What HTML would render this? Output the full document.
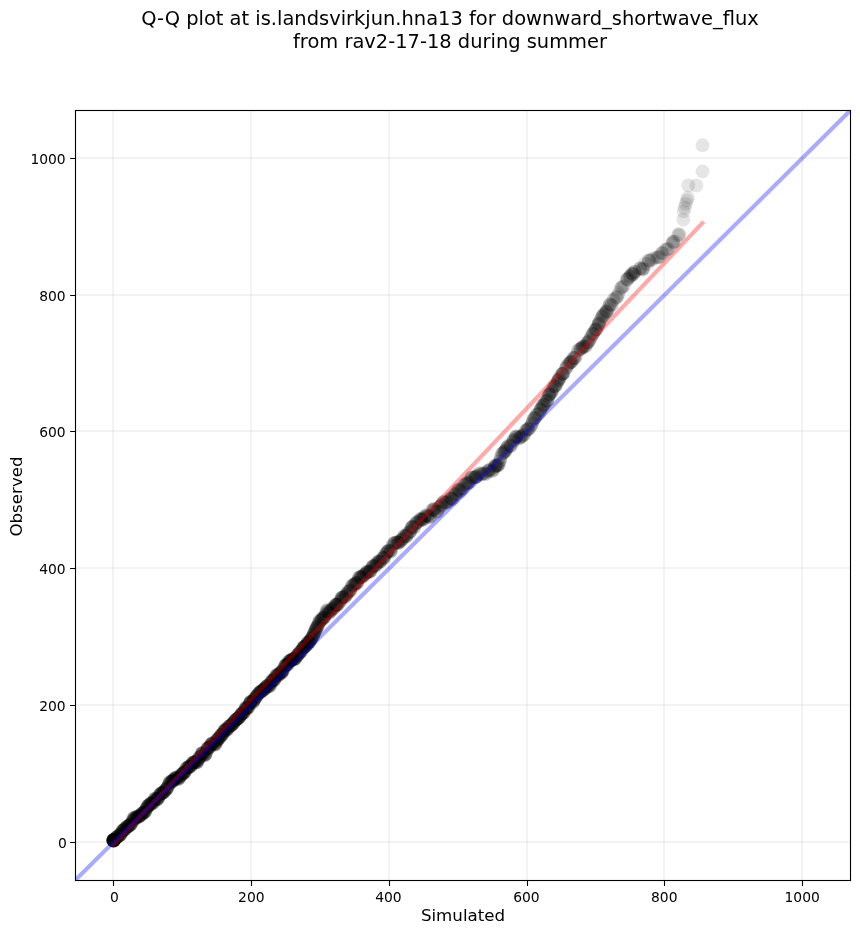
<!DOCTYPE html>
<html><head><meta charset="utf-8"><title>Q-Q plot</title>
<style>html,body{margin:0;padding:0;background:#fff}svg{display:block}text{font-family:"DejaVu Sans","Liberation Sans",sans-serif;fill:#000}</style></head><body>
<svg width="860" height="934" viewBox="0 0 860 934">
<rect width="860" height="934" fill="#fff"/>
<clipPath id="c"><rect x="75.5" y="110.5" width="775.0" height="770.0"/></clipPath>
<path d="M113 110.5V880.5M251 110.5V880.5M389 110.5V880.5M527 110.5V880.5M664 110.5V880.5M802 110.5V880.5" stroke="#000" stroke-opacity="0.048" stroke-width="2.05" fill="none"/>
<path d="M75.5 842H850.5M75.5 705H850.5M75.5 568H850.5M75.5 431H850.5M75.5 295H850.5M75.5 158H850.5" stroke="#000" stroke-opacity="0.048" stroke-width="2.05" fill="none"/>
<g clip-path="url(#c)">
<g fill="#000" fill-opacity="0.1">
<circle cx="113.6" cy="840.6" r="6.94"/>
<circle cx="113.4" cy="840.4" r="6.94"/>
<circle cx="114.0" cy="840.0" r="6.94"/>
<circle cx="113.4" cy="840.6" r="6.94"/>
<circle cx="113.2" cy="840.4" r="6.94"/>
<circle cx="113.3" cy="840.2" r="6.94"/>
<circle cx="113.4" cy="840.6" r="6.94"/>
<circle cx="113.6" cy="840.5" r="6.94"/>
<circle cx="113.9" cy="840.5" r="6.94"/>
<circle cx="113.6" cy="839.9" r="6.94"/>
<circle cx="113.9" cy="840.8" r="6.94"/>
<circle cx="113.1" cy="840.1" r="6.94"/>
<circle cx="113.9" cy="840.7" r="6.94"/>
<circle cx="113.9" cy="840.3" r="6.94"/>
<circle cx="113.5" cy="840.4" r="6.94"/>
<circle cx="113.4" cy="840.0" r="6.94"/>
<circle cx="113.5" cy="840.0" r="6.94"/>
<circle cx="113.3" cy="840.5" r="6.94"/>
<circle cx="113.4" cy="840.1" r="6.94"/>
<circle cx="113.6" cy="840.0" r="6.94"/>
<circle cx="113.4" cy="840.4" r="6.94"/>
<circle cx="113.4" cy="840.6" r="6.94"/>
<circle cx="113.9" cy="839.9" r="6.94"/>
<circle cx="113.2" cy="840.2" r="6.94"/>
<circle cx="113.2" cy="840.4" r="6.94"/>
<circle cx="113.4" cy="840.3" r="6.94"/>
<circle cx="113.9" cy="840.0" r="6.94"/>
<circle cx="113.9" cy="840.0" r="6.94"/>
<circle cx="114.4" cy="839.7" r="6.94"/>
<circle cx="114.4" cy="839.7" r="6.94"/>
<circle cx="114.9" cy="839.2" r="6.94"/>
<circle cx="115.3" cy="838.7" r="6.94"/>
<circle cx="115.8" cy="838.2" r="6.94"/>
<circle cx="116.5" cy="837.4" r="6.94"/>
<circle cx="116.6" cy="837.4" r="6.94"/>
<circle cx="116.7" cy="837.3" r="6.94"/>
<circle cx="117.0" cy="837.1" r="6.94"/>
<circle cx="117.3" cy="836.9" r="6.94"/>
<circle cx="117.4" cy="836.8" r="6.94"/>
<circle cx="117.5" cy="836.7" r="6.94"/>
<circle cx="118.6" cy="836.0" r="6.94"/>
<circle cx="118.7" cy="835.9" r="6.94"/>
<circle cx="118.8" cy="835.8" r="6.94"/>
<circle cx="119.4" cy="835.4" r="6.94"/>
<circle cx="119.5" cy="835.3" r="6.94"/>
<circle cx="119.6" cy="835.3" r="6.94"/>
<circle cx="120.3" cy="834.8" r="6.94"/>
<circle cx="120.3" cy="834.7" r="6.94"/>
<circle cx="120.5" cy="834.5" r="6.94"/>
<circle cx="120.7" cy="834.3" r="6.94"/>
<circle cx="121.1" cy="833.7" r="6.94"/>
<circle cx="121.3" cy="833.4" r="6.94"/>
<circle cx="121.9" cy="832.2" r="6.94"/>
<circle cx="122.1" cy="831.6" r="6.94"/>
<circle cx="122.5" cy="830.8" r="6.94"/>
<circle cx="122.6" cy="830.7" r="6.94"/>
<circle cx="122.6" cy="830.6" r="6.94"/>
<circle cx="122.7" cy="830.5" r="6.94"/>
<circle cx="123.7" cy="829.8" r="6.94"/>
<circle cx="123.7" cy="829.8" r="6.94"/>
<circle cx="124.0" cy="829.8" r="6.94"/>
<circle cx="124.3" cy="829.8" r="6.94"/>
<circle cx="124.6" cy="829.6" r="6.94"/>
<circle cx="124.9" cy="829.4" r="6.94"/>
<circle cx="125.0" cy="829.3" r="6.94"/>
<circle cx="125.5" cy="828.6" r="6.94"/>
<circle cx="125.5" cy="828.5" r="6.94"/>
<circle cx="126.0" cy="827.8" r="6.94"/>
<circle cx="126.5" cy="827.1" r="6.94"/>
<circle cx="127.1" cy="826.6" r="6.94"/>
<circle cx="127.2" cy="826.6" r="6.94"/>
<circle cx="127.3" cy="826.6" r="6.94"/>
<circle cx="127.4" cy="826.5" r="6.94"/>
<circle cx="127.6" cy="826.5" r="6.94"/>
<circle cx="128.5" cy="826.1" r="6.94"/>
<circle cx="128.6" cy="826.0" r="6.94"/>
<circle cx="128.9" cy="825.9" r="6.94"/>
<circle cx="128.9" cy="825.9" r="6.94"/>
<circle cx="129.1" cy="825.9" r="6.94"/>
<circle cx="130.1" cy="825.0" r="6.94"/>
<circle cx="130.2" cy="824.9" r="6.94"/>
<circle cx="130.2" cy="824.9" r="6.94"/>
<circle cx="130.4" cy="824.6" r="6.94"/>
<circle cx="130.4" cy="824.6" r="6.94"/>
<circle cx="130.9" cy="824.1" r="6.94"/>
<circle cx="131.0" cy="823.9" r="6.94"/>
<circle cx="132.0" cy="822.4" r="6.94"/>
<circle cx="132.1" cy="822.1" r="6.94"/>
<circle cx="132.3" cy="821.7" r="6.94"/>
<circle cx="132.7" cy="820.8" r="6.94"/>
<circle cx="132.8" cy="820.4" r="6.94"/>
<circle cx="133.1" cy="819.5" r="6.94"/>
<circle cx="133.6" cy="817.9" r="6.94"/>
<circle cx="133.8" cy="817.7" r="6.94"/>
<circle cx="134.4" cy="817.8" r="6.94"/>
<circle cx="134.5" cy="817.9" r="6.94"/>
<circle cx="134.6" cy="818.1" r="6.94"/>
<circle cx="134.8" cy="818.4" r="6.94"/>
<circle cx="134.9" cy="818.7" r="6.94"/>
<circle cx="135.4" cy="819.1" r="6.94"/>
<circle cx="136.3" cy="818.0" r="6.94"/>
<circle cx="136.3" cy="818.0" r="6.94"/>
<circle cx="136.5" cy="817.5" r="6.94"/>
<circle cx="136.9" cy="816.6" r="6.94"/>
<circle cx="137.0" cy="816.5" r="6.94"/>
<circle cx="137.1" cy="816.4" r="6.94"/>
<circle cx="138.1" cy="816.7" r="6.94"/>
<circle cx="138.4" cy="816.7" r="6.94"/>
<circle cx="138.5" cy="816.7" r="6.94"/>
<circle cx="138.6" cy="816.6" r="6.94"/>
<circle cx="138.7" cy="816.6" r="6.94"/>
<circle cx="138.9" cy="816.4" r="6.94"/>
<circle cx="139.2" cy="816.0" r="6.94"/>
<circle cx="139.5" cy="815.8" r="6.94"/>
<circle cx="140.0" cy="815.6" r="6.94"/>
<circle cx="140.0" cy="815.6" r="6.94"/>
<circle cx="141.1" cy="815.1" r="6.94"/>
<circle cx="141.3" cy="814.9" r="6.94"/>
<circle cx="141.3" cy="814.9" r="6.94"/>
<circle cx="141.7" cy="814.2" r="6.94"/>
<circle cx="142.1" cy="813.7" r="6.94"/>
<circle cx="142.3" cy="813.4" r="6.94"/>
<circle cx="142.5" cy="813.1" r="6.94"/>
<circle cx="142.8" cy="812.9" r="6.94"/>
<circle cx="143.0" cy="812.9" r="6.94"/>
<circle cx="143.2" cy="812.9" r="6.94"/>
<circle cx="143.5" cy="812.9" r="6.94"/>
<circle cx="144.2" cy="812.5" r="6.94"/>
<circle cx="144.2" cy="812.4" r="6.94"/>
<circle cx="144.7" cy="811.9" r="6.94"/>
<circle cx="144.8" cy="811.8" r="6.94"/>
<circle cx="144.9" cy="811.6" r="6.94"/>
<circle cx="144.9" cy="811.6" r="6.94"/>
<circle cx="145.5" cy="810.4" r="6.94"/>
<circle cx="145.9" cy="809.6" r="6.94"/>
<circle cx="146.2" cy="808.9" r="6.94"/>
<circle cx="146.3" cy="808.8" r="6.94"/>
<circle cx="146.3" cy="808.7" r="6.94"/>
<circle cx="147.2" cy="807.2" r="6.94"/>
<circle cx="147.6" cy="806.6" r="6.94"/>
<circle cx="147.6" cy="806.6" r="6.94"/>
<circle cx="147.7" cy="806.3" r="6.94"/>
<circle cx="148.0" cy="805.9" r="6.94"/>
<circle cx="148.5" cy="805.3" r="6.94"/>
<circle cx="148.5" cy="805.3" r="6.94"/>
<circle cx="148.7" cy="805.2" r="6.94"/>
<circle cx="148.9" cy="805.1" r="6.94"/>
<circle cx="149.8" cy="804.8" r="6.94"/>
<circle cx="150.1" cy="804.5" r="6.94"/>
<circle cx="150.2" cy="804.3" r="6.94"/>
<circle cx="150.7" cy="803.6" r="6.94"/>
<circle cx="150.7" cy="803.6" r="6.94"/>
<circle cx="150.8" cy="803.5" r="6.94"/>
<circle cx="151.2" cy="803.0" r="6.94"/>
<circle cx="151.6" cy="802.8" r="6.94"/>
<circle cx="151.9" cy="802.9" r="6.94"/>
<circle cx="152.1" cy="803.2" r="6.94"/>
<circle cx="152.6" cy="803.7" r="6.94"/>
<circle cx="153.0" cy="803.6" r="6.94"/>
<circle cx="153.6" cy="802.5" r="6.94"/>
<circle cx="153.8" cy="801.7" r="6.94"/>
<circle cx="154.1" cy="801.0" r="6.94"/>
<circle cx="154.1" cy="800.9" r="6.94"/>
<circle cx="154.6" cy="799.6" r="6.94"/>
<circle cx="154.8" cy="799.0" r="6.94"/>
<circle cx="155.0" cy="798.7" r="6.94"/>
<circle cx="155.0" cy="798.6" r="6.94"/>
<circle cx="155.3" cy="798.4" r="6.94"/>
<circle cx="156.3" cy="799.0" r="6.94"/>
<circle cx="156.5" cy="799.2" r="6.94"/>
<circle cx="156.8" cy="799.4" r="6.94"/>
<circle cx="156.9" cy="799.4" r="6.94"/>
<circle cx="157.2" cy="799.4" r="6.94"/>
<circle cx="157.4" cy="799.2" r="6.94"/>
<circle cx="157.5" cy="799.1" r="6.94"/>
<circle cx="157.8" cy="798.8" r="6.94"/>
<circle cx="158.2" cy="798.2" r="6.94"/>
<circle cx="158.6" cy="797.3" r="6.94"/>
<circle cx="158.6" cy="797.2" r="6.94"/>
<circle cx="159.4" cy="795.5" r="6.94"/>
<circle cx="159.5" cy="795.3" r="6.94"/>
<circle cx="159.7" cy="794.9" r="6.94"/>
<circle cx="160.2" cy="794.1" r="6.94"/>
<circle cx="160.3" cy="794.0" r="6.94"/>
<circle cx="160.8" cy="793.6" r="6.94"/>
<circle cx="161.0" cy="793.5" r="6.94"/>
<circle cx="161.5" cy="793.3" r="6.94"/>
<circle cx="161.7" cy="793.2" r="6.94"/>
<circle cx="162.0" cy="793.1" r="6.94"/>
<circle cx="162.5" cy="792.9" r="6.94"/>
<circle cx="162.5" cy="792.8" r="6.94"/>
<circle cx="162.6" cy="792.8" r="6.94"/>
<circle cx="162.9" cy="792.6" r="6.94"/>
<circle cx="163.5" cy="792.3" r="6.94"/>
<circle cx="163.7" cy="792.2" r="6.94"/>
<circle cx="163.8" cy="792.2" r="6.94"/>
<circle cx="164.1" cy="791.9" r="6.94"/>
<circle cx="164.2" cy="791.8" r="6.94"/>
<circle cx="165.3" cy="790.2" r="6.94"/>
<circle cx="165.6" cy="789.9" r="6.94"/>
<circle cx="165.7" cy="789.8" r="6.94"/>
<circle cx="166.2" cy="789.3" r="6.94"/>
<circle cx="166.4" cy="789.1" r="6.94"/>
<circle cx="166.5" cy="789.0" r="6.94"/>
<circle cx="166.8" cy="788.5" r="6.94"/>
<circle cx="166.9" cy="788.4" r="6.94"/>
<circle cx="167.5" cy="787.5" r="6.94"/>
<circle cx="167.5" cy="787.5" r="6.94"/>
<circle cx="167.7" cy="787.1" r="6.94"/>
<circle cx="168.8" cy="784.9" r="6.94"/>
<circle cx="168.8" cy="784.7" r="6.94"/>
<circle cx="169.2" cy="783.8" r="6.94"/>
<circle cx="169.3" cy="783.6" r="6.94"/>
<circle cx="169.7" cy="782.5" r="6.94"/>
<circle cx="169.8" cy="782.3" r="6.94"/>
<circle cx="169.8" cy="782.2" r="6.94"/>
<circle cx="170.2" cy="781.8" r="6.94"/>
<circle cx="170.8" cy="781.5" r="6.94"/>
<circle cx="171.4" cy="781.6" r="6.94"/>
<circle cx="171.6" cy="781.7" r="6.94"/>
<circle cx="171.9" cy="781.8" r="6.94"/>
<circle cx="172.0" cy="781.8" r="6.94"/>
<circle cx="172.0" cy="781.8" r="6.94"/>
<circle cx="172.7" cy="781.0" r="6.94"/>
<circle cx="172.9" cy="780.7" r="6.94"/>
<circle cx="172.9" cy="780.6" r="6.94"/>
<circle cx="173.3" cy="780.0" r="6.94"/>
<circle cx="173.9" cy="779.6" r="6.94"/>
<circle cx="173.9" cy="779.6" r="6.94"/>
<circle cx="174.2" cy="779.4" r="6.94"/>
<circle cx="174.4" cy="779.2" r="6.94"/>
<circle cx="175.1" cy="778.3" r="6.94"/>
<circle cx="175.4" cy="778.0" r="6.94"/>
<circle cx="175.4" cy="778.0" r="6.94"/>
<circle cx="175.9" cy="777.6" r="6.94"/>
<circle cx="175.9" cy="777.5" r="6.94"/>
<circle cx="176.1" cy="777.5" r="6.94"/>
<circle cx="176.7" cy="778.0" r="6.94"/>
<circle cx="176.9" cy="778.2" r="6.94"/>
<circle cx="177.0" cy="778.4" r="6.94"/>
<circle cx="177.4" cy="779.0" r="6.94"/>
<circle cx="177.5" cy="779.2" r="6.94"/>
<circle cx="178.2" cy="779.2" r="6.94"/>
<circle cx="178.2" cy="779.2" r="6.94"/>
<circle cx="179.2" cy="778.1" r="6.94"/>
<circle cx="179.2" cy="777.9" r="6.94"/>
<circle cx="179.5" cy="777.5" r="6.94"/>
<circle cx="179.8" cy="776.9" r="6.94"/>
<circle cx="179.9" cy="776.6" r="6.94"/>
<circle cx="180.0" cy="776.6" r="6.94"/>
<circle cx="180.9" cy="775.0" r="6.94"/>
<circle cx="181.0" cy="775.0" r="6.94"/>
<circle cx="181.0" cy="774.9" r="6.94"/>
<circle cx="181.2" cy="774.7" r="6.94"/>
<circle cx="182.4" cy="774.1" r="6.94"/>
<circle cx="182.4" cy="774.1" r="6.94"/>
<circle cx="182.5" cy="773.9" r="6.94"/>
<circle cx="182.7" cy="773.8" r="6.94"/>
<circle cx="183.1" cy="773.2" r="6.94"/>
<circle cx="183.4" cy="772.9" r="6.94"/>
<circle cx="183.5" cy="772.7" r="6.94"/>
<circle cx="184.0" cy="772.4" r="6.94"/>
<circle cx="184.1" cy="772.4" r="6.94"/>
<circle cx="184.3" cy="772.4" r="6.94"/>
<circle cx="184.6" cy="772.3" r="6.94"/>
<circle cx="184.6" cy="772.3" r="6.94"/>
<circle cx="185.1" cy="771.9" r="6.94"/>
<circle cx="185.6" cy="770.6" r="6.94"/>
<circle cx="186.1" cy="769.3" r="6.94"/>
<circle cx="186.4" cy="768.4" r="6.94"/>
<circle cx="186.4" cy="768.4" r="6.94"/>
<circle cx="186.5" cy="768.1" r="6.94"/>
<circle cx="187.2" cy="767.5" r="6.94"/>
<circle cx="188.0" cy="767.5" r="6.94"/>
<circle cx="188.1" cy="767.5" r="6.94"/>
<circle cx="188.4" cy="767.2" r="6.94"/>
<circle cx="189.0" cy="766.7" r="6.94"/>
<circle cx="189.0" cy="766.7" r="6.94"/>
<circle cx="189.4" cy="766.6" r="6.94"/>
<circle cx="189.5" cy="766.6" r="6.94"/>
<circle cx="189.5" cy="766.6" r="6.94"/>
<circle cx="189.7" cy="766.6" r="6.94"/>
<circle cx="190.1" cy="766.8" r="6.94"/>
<circle cx="190.4" cy="766.9" r="6.94"/>
<circle cx="191.1" cy="765.9" r="6.94"/>
<circle cx="191.6" cy="764.7" r="6.94"/>
<circle cx="191.6" cy="764.6" r="6.94"/>
<circle cx="191.7" cy="764.3" r="6.94"/>
<circle cx="192.1" cy="763.5" r="6.94"/>
<circle cx="193.0" cy="762.6" r="6.94"/>
<circle cx="193.2" cy="762.5" r="6.94"/>
<circle cx="193.5" cy="762.4" r="6.94"/>
<circle cx="193.6" cy="762.4" r="6.94"/>
<circle cx="193.8" cy="762.4" r="6.94"/>
<circle cx="193.8" cy="762.4" r="6.94"/>
<circle cx="193.9" cy="762.4" r="6.94"/>
<circle cx="194.3" cy="762.2" r="6.94"/>
<circle cx="194.9" cy="761.9" r="6.94"/>
<circle cx="195.1" cy="761.8" r="6.94"/>
<circle cx="195.7" cy="762.0" r="6.94"/>
<circle cx="195.7" cy="762.1" r="6.94"/>
<circle cx="196.0" cy="762.3" r="6.94"/>
<circle cx="196.2" cy="762.5" r="6.94"/>
<circle cx="196.8" cy="762.5" r="6.94"/>
<circle cx="196.9" cy="762.4" r="6.94"/>
<circle cx="197.0" cy="762.4" r="6.94"/>
<circle cx="197.8" cy="760.9" r="6.94"/>
<circle cx="197.9" cy="760.6" r="6.94"/>
<circle cx="198.0" cy="760.4" r="6.94"/>
<circle cx="198.1" cy="760.1" r="6.94"/>
<circle cx="198.9" cy="758.2" r="6.94"/>
<circle cx="198.9" cy="758.1" r="6.94"/>
<circle cx="198.9" cy="758.1" r="6.94"/>
<circle cx="199.1" cy="757.9" r="6.94"/>
<circle cx="199.8" cy="757.4" r="6.94"/>
<circle cx="200.4" cy="756.7" r="6.94"/>
<circle cx="200.6" cy="756.2" r="6.94"/>
<circle cx="201.4" cy="754.3" r="6.94"/>
<circle cx="201.7" cy="753.6" r="6.94"/>
<circle cx="202.1" cy="753.2" r="6.94"/>
<circle cx="202.1" cy="753.2" r="6.94"/>
<circle cx="202.2" cy="753.2" r="6.94"/>
<circle cx="202.4" cy="753.2" r="6.94"/>
<circle cx="202.6" cy="753.3" r="6.94"/>
<circle cx="202.7" cy="753.4" r="6.94"/>
<circle cx="202.9" cy="753.6" r="6.94"/>
<circle cx="203.6" cy="754.7" r="6.94"/>
<circle cx="203.6" cy="754.7" r="6.94"/>
<circle cx="204.0" cy="755.1" r="6.94"/>
<circle cx="204.5" cy="755.3" r="6.94"/>
<circle cx="205.0" cy="755.0" r="6.94"/>
<circle cx="205.1" cy="754.9" r="6.94"/>
<circle cx="205.3" cy="754.7" r="6.94"/>
<circle cx="205.6" cy="754.1" r="6.94"/>
<circle cx="205.7" cy="753.9" r="6.94"/>
<circle cx="205.9" cy="753.3" r="6.94"/>
<circle cx="206.8" cy="750.6" r="6.94"/>
<circle cx="207.0" cy="749.9" r="6.94"/>
<circle cx="207.4" cy="748.7" r="6.94"/>
<circle cx="207.5" cy="748.5" r="6.94"/>
<circle cx="207.7" cy="748.1" r="6.94"/>
<circle cx="207.8" cy="748.0" r="6.94"/>
<circle cx="208.2" cy="747.6" r="6.94"/>
<circle cx="208.7" cy="747.6" r="6.94"/>
<circle cx="208.8" cy="747.6" r="6.94"/>
<circle cx="208.9" cy="747.6" r="6.94"/>
<circle cx="209.2" cy="747.7" r="6.94"/>
<circle cx="209.8" cy="747.2" r="6.94"/>
<circle cx="210.1" cy="746.7" r="6.94"/>
<circle cx="210.7" cy="745.4" r="6.94"/>
<circle cx="211.0" cy="744.8" r="6.94"/>
<circle cx="211.1" cy="744.7" r="6.94"/>
<circle cx="211.4" cy="744.2" r="6.94"/>
<circle cx="211.4" cy="744.1" r="6.94"/>
<circle cx="211.9" cy="743.4" r="6.94"/>
<circle cx="212.2" cy="743.1" r="6.94"/>
<circle cx="212.4" cy="743.1" r="6.94"/>
<circle cx="212.7" cy="743.1" r="6.94"/>
<circle cx="212.8" cy="743.2" r="6.94"/>
<circle cx="213.6" cy="743.5" r="6.94"/>
<circle cx="214.0" cy="743.9" r="6.94"/>
<circle cx="214.4" cy="744.3" r="6.94"/>
<circle cx="214.5" cy="744.4" r="6.94"/>
<circle cx="215.0" cy="744.5" r="6.94"/>
<circle cx="215.2" cy="744.4" r="6.94"/>
<circle cx="215.2" cy="744.4" r="6.94"/>
<circle cx="215.2" cy="744.4" r="6.94"/>
<circle cx="216.4" cy="742.4" r="6.94"/>
<circle cx="216.5" cy="742.1" r="6.94"/>
<circle cx="216.8" cy="740.8" r="6.94"/>
<circle cx="217.0" cy="740.4" r="6.94"/>
<circle cx="217.0" cy="740.3" r="6.94"/>
<circle cx="217.1" cy="739.9" r="6.94"/>
<circle cx="217.5" cy="739.2" r="6.94"/>
<circle cx="217.6" cy="739.1" r="6.94"/>
<circle cx="218.1" cy="738.8" r="6.94"/>
<circle cx="218.7" cy="738.7" r="6.94"/>
<circle cx="218.7" cy="738.7" r="6.94"/>
<circle cx="219.1" cy="738.4" r="6.94"/>
<circle cx="219.1" cy="738.4" r="6.94"/>
<circle cx="219.6" cy="737.5" r="6.94"/>
<circle cx="219.7" cy="737.4" r="6.94"/>
<circle cx="220.1" cy="736.5" r="6.94"/>
<circle cx="220.2" cy="736.4" r="6.94"/>
<circle cx="221.1" cy="735.2" r="6.94"/>
<circle cx="221.2" cy="735.0" r="6.94"/>
<circle cx="221.3" cy="735.0" r="6.94"/>
<circle cx="221.4" cy="734.9" r="6.94"/>
<circle cx="221.9" cy="734.6" r="6.94"/>
<circle cx="222.0" cy="734.6" r="6.94"/>
<circle cx="222.4" cy="734.3" r="6.94"/>
<circle cx="222.5" cy="734.1" r="6.94"/>
<circle cx="222.5" cy="734.1" r="6.94"/>
<circle cx="223.2" cy="733.0" r="6.94"/>
<circle cx="223.8" cy="731.9" r="6.94"/>
<circle cx="223.9" cy="731.7" r="6.94"/>
<circle cx="224.3" cy="730.9" r="6.94"/>
<circle cx="224.6" cy="730.4" r="6.94"/>
<circle cx="224.9" cy="729.9" r="6.94"/>
<circle cx="225.0" cy="729.9" r="6.94"/>
<circle cx="225.2" cy="729.8" r="6.94"/>
<circle cx="225.3" cy="729.8" r="6.94"/>
<circle cx="225.7" cy="729.8" r="6.94"/>
<circle cx="225.9" cy="729.9" r="6.94"/>
<circle cx="226.2" cy="730.0" r="6.94"/>
<circle cx="226.9" cy="730.0" r="6.94"/>
<circle cx="227.2" cy="729.7" r="6.94"/>
<circle cx="227.4" cy="729.5" r="6.94"/>
<circle cx="228.0" cy="728.4" r="6.94"/>
<circle cx="228.1" cy="728.2" r="6.94"/>
<circle cx="228.5" cy="727.2" r="6.94"/>
<circle cx="228.5" cy="727.1" r="6.94"/>
<circle cx="229.2" cy="726.3" r="6.94"/>
<circle cx="229.4" cy="726.3" r="6.94"/>
<circle cx="229.6" cy="726.2" r="6.94"/>
<circle cx="229.6" cy="726.2" r="6.94"/>
<circle cx="229.7" cy="726.2" r="6.94"/>
<circle cx="230.7" cy="725.6" r="6.94"/>
<circle cx="230.9" cy="725.4" r="6.94"/>
<circle cx="231.4" cy="725.1" r="6.94"/>
<circle cx="231.4" cy="725.0" r="6.94"/>
<circle cx="231.5" cy="725.0" r="6.94"/>
<circle cx="231.6" cy="724.9" r="6.94"/>
<circle cx="232.6" cy="723.8" r="6.94"/>
<circle cx="232.7" cy="723.8" r="6.94"/>
<circle cx="232.8" cy="723.7" r="6.94"/>
<circle cx="233.1" cy="723.4" r="6.94"/>
<circle cx="233.2" cy="723.2" r="6.94"/>
<circle cx="233.4" cy="723.0" r="6.94"/>
<circle cx="234.0" cy="722.1" r="6.94"/>
<circle cx="234.1" cy="721.9" r="6.94"/>
<circle cx="234.7" cy="721.2" r="6.94"/>
<circle cx="235.2" cy="720.7" r="6.94"/>
<circle cx="235.3" cy="720.5" r="6.94"/>
<circle cx="235.4" cy="720.3" r="6.94"/>
<circle cx="235.5" cy="720.3" r="6.94"/>
<circle cx="236.1" cy="719.5" r="6.94"/>
<circle cx="236.3" cy="719.4" r="6.94"/>
<circle cx="236.5" cy="719.3" r="6.94"/>
<circle cx="236.9" cy="719.2" r="6.94"/>
<circle cx="237.0" cy="719.1" r="6.94"/>
<circle cx="237.4" cy="718.9" r="6.94"/>
<circle cx="237.8" cy="718.6" r="6.94"/>
<circle cx="238.0" cy="718.4" r="6.94"/>
<circle cx="238.4" cy="718.1" r="6.94"/>
<circle cx="238.7" cy="717.9" r="6.94"/>
<circle cx="238.7" cy="717.9" r="6.94"/>
<circle cx="239.0" cy="717.6" r="6.94"/>
<circle cx="239.7" cy="716.7" r="6.94"/>
<circle cx="239.8" cy="716.5" r="6.94"/>
<circle cx="239.9" cy="716.5" r="6.94"/>
<circle cx="240.5" cy="715.4" r="6.94"/>
<circle cx="240.5" cy="715.3" r="6.94"/>
<circle cx="240.6" cy="715.3" r="6.94"/>
<circle cx="241.2" cy="714.2" r="6.94"/>
<circle cx="241.5" cy="713.9" r="6.94"/>
<circle cx="241.6" cy="713.7" r="6.94"/>
<circle cx="241.7" cy="713.7" r="6.94"/>
<circle cx="242.1" cy="713.3" r="6.94"/>
<circle cx="242.3" cy="713.3" r="6.94"/>
<circle cx="242.9" cy="713.2" r="6.94"/>
<circle cx="243.1" cy="713.1" r="6.94"/>
<circle cx="243.2" cy="713.1" r="6.94"/>
<circle cx="243.2" cy="713.1" r="6.94"/>
<circle cx="243.4" cy="713.0" r="6.94"/>
<circle cx="244.0" cy="712.3" r="6.94"/>
<circle cx="244.5" cy="711.1" r="6.94"/>
<circle cx="244.9" cy="709.8" r="6.94"/>
<circle cx="244.9" cy="709.7" r="6.94"/>
<circle cx="245.0" cy="709.6" r="6.94"/>
<circle cx="245.6" cy="707.9" r="6.94"/>
<circle cx="246.1" cy="707.4" r="6.94"/>
<circle cx="246.2" cy="707.4" r="6.94"/>
<circle cx="246.2" cy="707.4" r="6.94"/>
<circle cx="246.6" cy="707.8" r="6.94"/>
<circle cx="246.9" cy="708.1" r="6.94"/>
<circle cx="246.9" cy="708.1" r="6.94"/>
<circle cx="247.1" cy="708.3" r="6.94"/>
<circle cx="247.2" cy="708.3" r="6.94"/>
<circle cx="247.3" cy="708.4" r="6.94"/>
<circle cx="248.2" cy="707.7" r="6.94"/>
<circle cx="248.2" cy="707.7" r="6.94"/>
<circle cx="248.5" cy="707.1" r="6.94"/>
<circle cx="249.0" cy="705.9" r="6.94"/>
<circle cx="249.4" cy="704.6" r="6.94"/>
<circle cx="249.7" cy="703.6" r="6.94"/>
<circle cx="249.9" cy="703.1" r="6.94"/>
<circle cx="250.0" cy="702.8" r="6.94"/>
<circle cx="250.1" cy="702.7" r="6.94"/>
<circle cx="250.4" cy="702.1" r="6.94"/>
<circle cx="250.4" cy="702.0" r="6.94"/>
<circle cx="250.8" cy="701.7" r="6.94"/>
<circle cx="250.8" cy="701.7" r="6.94"/>
<circle cx="251.1" cy="701.7" r="6.94"/>
<circle cx="251.2" cy="701.8" r="6.94"/>
<circle cx="252.3" cy="702.6" r="6.94"/>
<circle cx="252.7" cy="702.4" r="6.94"/>
<circle cx="252.9" cy="702.2" r="6.94"/>
<circle cx="253.0" cy="702.1" r="6.94"/>
<circle cx="253.7" cy="700.6" r="6.94"/>
<circle cx="253.8" cy="700.3" r="6.94"/>
<circle cx="254.1" cy="699.8" r="6.94"/>
<circle cx="254.1" cy="699.8" r="6.94"/>
<circle cx="254.3" cy="699.3" r="6.94"/>
<circle cx="254.6" cy="698.7" r="6.94"/>
<circle cx="254.8" cy="698.4" r="6.94"/>
<circle cx="255.2" cy="697.9" r="6.94"/>
<circle cx="255.6" cy="697.5" r="6.94"/>
<circle cx="256.2" cy="696.8" r="6.94"/>
<circle cx="256.2" cy="696.8" r="6.94"/>
<circle cx="256.5" cy="696.4" r="6.94"/>
<circle cx="256.7" cy="696.1" r="6.94"/>
<circle cx="257.0" cy="695.5" r="6.94"/>
<circle cx="257.3" cy="694.9" r="6.94"/>
<circle cx="257.5" cy="694.8" r="6.94"/>
<circle cx="258.7" cy="693.5" r="6.94"/>
<circle cx="258.7" cy="693.5" r="6.94"/>
<circle cx="259.1" cy="693.1" r="6.94"/>
<circle cx="259.1" cy="692.9" r="6.94"/>
<circle cx="259.7" cy="692.3" r="6.94"/>
<circle cx="259.7" cy="692.2" r="6.94"/>
<circle cx="260.3" cy="691.9" r="6.94"/>
<circle cx="260.4" cy="691.8" r="6.94"/>
<circle cx="260.9" cy="691.6" r="6.94"/>
<circle cx="260.9" cy="691.6" r="6.94"/>
<circle cx="261.3" cy="691.4" r="6.94"/>
<circle cx="261.4" cy="691.4" r="6.94"/>
<circle cx="261.5" cy="691.3" r="6.94"/>
<circle cx="261.9" cy="691.0" r="6.94"/>
<circle cx="263.1" cy="689.9" r="6.94"/>
<circle cx="263.2" cy="689.9" r="6.94"/>
<circle cx="263.3" cy="689.8" r="6.94"/>
<circle cx="263.8" cy="689.6" r="6.94"/>
<circle cx="263.8" cy="689.6" r="6.94"/>
<circle cx="264.2" cy="689.2" r="6.94"/>
<circle cx="264.4" cy="688.9" r="6.94"/>
<circle cx="264.5" cy="688.8" r="6.94"/>
<circle cx="264.9" cy="688.3" r="6.94"/>
<circle cx="265.2" cy="688.0" r="6.94"/>
<circle cx="265.6" cy="687.6" r="6.94"/>
<circle cx="265.8" cy="687.3" r="6.94"/>
<circle cx="266.1" cy="687.0" r="6.94"/>
<circle cx="266.3" cy="686.6" r="6.94"/>
<circle cx="266.9" cy="685.9" r="6.94"/>
<circle cx="267.6" cy="685.4" r="6.94"/>
<circle cx="267.6" cy="685.4" r="6.94"/>
<circle cx="268.0" cy="685.6" r="6.94"/>
<circle cx="268.1" cy="685.7" r="6.94"/>
<circle cx="268.3" cy="685.8" r="6.94"/>
<circle cx="268.7" cy="686.2" r="6.94"/>
<circle cx="269.1" cy="686.4" r="6.94"/>
<circle cx="269.4" cy="686.3" r="6.94"/>
<circle cx="269.5" cy="686.2" r="6.94"/>
<circle cx="270.0" cy="685.5" r="6.94"/>
<circle cx="270.2" cy="684.9" r="6.94"/>
<circle cx="270.8" cy="683.1" r="6.94"/>
<circle cx="271.0" cy="682.7" r="6.94"/>
<circle cx="271.0" cy="682.5" r="6.94"/>
<circle cx="271.1" cy="682.2" r="6.94"/>
<circle cx="271.4" cy="681.6" r="6.94"/>
<circle cx="271.9" cy="680.5" r="6.94"/>
<circle cx="272.3" cy="680.1" r="6.94"/>
<circle cx="272.9" cy="680.2" r="6.94"/>
<circle cx="272.9" cy="680.3" r="6.94"/>
<circle cx="273.1" cy="680.4" r="6.94"/>
<circle cx="273.1" cy="680.4" r="6.94"/>
<circle cx="273.7" cy="680.5" r="6.94"/>
<circle cx="274.0" cy="680.2" r="6.94"/>
<circle cx="274.3" cy="679.9" r="6.94"/>
<circle cx="274.6" cy="679.3" r="6.94"/>
<circle cx="274.8" cy="679.0" r="6.94"/>
<circle cx="275.3" cy="677.7" r="6.94"/>
<circle cx="275.3" cy="677.5" r="6.94"/>
<circle cx="275.8" cy="676.3" r="6.94"/>
<circle cx="276.0" cy="675.8" r="6.94"/>
<circle cx="276.3" cy="675.2" r="6.94"/>
<circle cx="276.8" cy="674.8" r="6.94"/>
<circle cx="277.1" cy="674.8" r="6.94"/>
<circle cx="277.5" cy="675.1" r="6.94"/>
<circle cx="277.7" cy="675.3" r="6.94"/>
<circle cx="278.0" cy="675.5" r="6.94"/>
<circle cx="278.5" cy="675.2" r="6.94"/>
<circle cx="278.6" cy="675.1" r="6.94"/>
<circle cx="278.8" cy="674.6" r="6.94"/>
<circle cx="279.1" cy="673.8" r="6.94"/>
<circle cx="279.8" cy="672.6" r="6.94"/>
<circle cx="280.5" cy="672.6" r="6.94"/>
<circle cx="280.7" cy="672.8" r="6.94"/>
<circle cx="280.8" cy="672.8" r="6.94"/>
<circle cx="281.2" cy="672.9" r="6.94"/>
<circle cx="281.3" cy="672.8" r="6.94"/>
<circle cx="281.4" cy="672.8" r="6.94"/>
<circle cx="281.7" cy="672.5" r="6.94"/>
<circle cx="282.1" cy="671.9" r="6.94"/>
<circle cx="282.3" cy="671.5" r="6.94"/>
<circle cx="282.4" cy="671.2" r="6.94"/>
<circle cx="282.6" cy="670.9" r="6.94"/>
<circle cx="282.8" cy="670.3" r="6.94"/>
<circle cx="282.9" cy="670.2" r="6.94"/>
<circle cx="283.5" cy="669.0" r="6.94"/>
<circle cx="284.2" cy="667.8" r="6.94"/>
<circle cx="284.7" cy="666.7" r="6.94"/>
<circle cx="285.3" cy="665.5" r="6.94"/>
<circle cx="285.4" cy="665.3" r="6.94"/>
<circle cx="285.8" cy="665.0" r="6.94"/>
<circle cx="285.9" cy="664.9" r="6.94"/>
<circle cx="286.0" cy="664.9" r="6.94"/>
<circle cx="286.3" cy="664.9" r="6.94"/>
<circle cx="286.3" cy="664.9" r="6.94"/>
<circle cx="286.4" cy="664.9" r="6.94"/>
<circle cx="287.1" cy="665.2" r="6.94"/>
<circle cx="287.5" cy="665.0" r="6.94"/>
<circle cx="287.7" cy="664.6" r="6.94"/>
<circle cx="288.0" cy="663.8" r="6.94"/>
<circle cx="288.2" cy="663.4" r="6.94"/>
<circle cx="288.7" cy="661.9" r="6.94"/>
<circle cx="288.8" cy="661.8" r="6.94"/>
<circle cx="288.9" cy="661.5" r="6.94"/>
<circle cx="289.3" cy="661.1" r="6.94"/>
<circle cx="289.6" cy="660.9" r="6.94"/>
<circle cx="290.0" cy="660.9" r="6.94"/>
<circle cx="290.3" cy="660.9" r="6.94"/>
<circle cx="290.8" cy="660.8" r="6.94"/>
<circle cx="291.0" cy="660.5" r="6.94"/>
<circle cx="291.5" cy="659.8" r="6.94"/>
<circle cx="291.5" cy="659.7" r="6.94"/>
<circle cx="291.7" cy="659.5" r="6.94"/>
<circle cx="292.2" cy="659.3" r="6.94"/>
<circle cx="292.3" cy="659.3" r="6.94"/>
<circle cx="292.5" cy="659.3" r="6.94"/>
<circle cx="292.7" cy="659.4" r="6.94"/>
<circle cx="292.9" cy="659.5" r="6.94"/>
<circle cx="293.4" cy="659.7" r="6.94"/>
<circle cx="293.7" cy="659.6" r="6.94"/>
<circle cx="294.3" cy="659.2" r="6.94"/>
<circle cx="294.8" cy="658.9" r="6.94"/>
<circle cx="294.8" cy="658.8" r="6.94"/>
<circle cx="294.9" cy="658.8" r="6.94"/>
<circle cx="295.0" cy="658.6" r="6.94"/>
<circle cx="295.5" cy="658.0" r="6.94"/>
<circle cx="295.7" cy="657.8" r="6.94"/>
<circle cx="296.4" cy="656.6" r="6.94"/>
<circle cx="297.0" cy="655.7" r="6.94"/>
<circle cx="297.1" cy="655.6" r="6.94"/>
<circle cx="297.3" cy="655.3" r="6.94"/>
<circle cx="297.4" cy="655.2" r="6.94"/>
<circle cx="297.4" cy="655.2" r="6.94"/>
<circle cx="298.2" cy="654.6" r="6.94"/>
<circle cx="298.4" cy="654.4" r="6.94"/>
<circle cx="298.6" cy="654.0" r="6.94"/>
<circle cx="299.1" cy="653.1" r="6.94"/>
<circle cx="299.2" cy="653.1" r="6.94"/>
<circle cx="300.1" cy="652.0" r="6.94"/>
<circle cx="300.2" cy="651.9" r="6.94"/>
<circle cx="300.4" cy="651.8" r="6.94"/>
<circle cx="300.5" cy="651.7" r="6.94"/>
<circle cx="300.9" cy="651.5" r="6.94"/>
<circle cx="301.3" cy="651.3" r="6.94"/>
<circle cx="301.7" cy="650.7" r="6.94"/>
<circle cx="302.0" cy="650.0" r="6.94"/>
<circle cx="302.9" cy="648.1" r="6.94"/>
<circle cx="303.0" cy="647.9" r="6.94"/>
<circle cx="303.2" cy="647.6" r="6.94"/>
<circle cx="303.3" cy="647.5" r="6.94"/>
<circle cx="303.6" cy="647.2" r="6.94"/>
<circle cx="303.8" cy="647.0" r="6.94"/>
<circle cx="304.2" cy="646.8" r="6.94"/>
<circle cx="304.3" cy="646.8" r="6.94"/>
<circle cx="304.6" cy="646.9" r="6.94"/>
<circle cx="304.6" cy="646.9" r="6.94"/>
<circle cx="304.7" cy="647.0" r="6.94"/>
<circle cx="306.1" cy="645.9" r="6.94"/>
<circle cx="306.2" cy="645.6" r="6.94"/>
<circle cx="306.2" cy="645.6" r="6.94"/>
<circle cx="306.5" cy="644.9" r="6.94"/>
<circle cx="306.6" cy="644.5" r="6.94"/>
<circle cx="306.7" cy="644.5" r="6.94"/>
<circle cx="307.4" cy="642.7" r="6.94"/>
<circle cx="308.0" cy="642.3" r="6.94"/>
<circle cx="308.1" cy="642.3" r="6.94"/>
<circle cx="308.2" cy="642.3" r="6.94"/>
<circle cx="308.5" cy="642.5" r="6.94"/>
<circle cx="308.6" cy="642.6" r="6.94"/>
<circle cx="308.9" cy="642.7" r="6.94"/>
<circle cx="309.0" cy="642.7" r="6.94"/>
<circle cx="309.2" cy="642.7" r="6.94"/>
<circle cx="309.8" cy="641.8" r="6.94"/>
<circle cx="310.1" cy="641.1" r="6.94"/>
<circle cx="310.1" cy="640.9" r="6.94"/>
<circle cx="310.4" cy="640.2" r="6.94"/>
<circle cx="311.1" cy="638.9" r="6.94"/>
<circle cx="311.1" cy="638.9" r="6.94"/>
<circle cx="311.2" cy="638.7" r="6.94"/>
<circle cx="311.3" cy="638.7" r="6.94"/>
<circle cx="311.7" cy="638.4" r="6.94"/>
<circle cx="312.6" cy="637.2" r="6.94"/>
<circle cx="312.6" cy="637.2" r="6.94"/>
<circle cx="313.0" cy="636.1" r="6.94"/>
<circle cx="313.2" cy="635.6" r="6.94"/>
<circle cx="313.4" cy="634.8" r="6.94"/>
<circle cx="313.5" cy="634.6" r="6.94"/>
<circle cx="313.7" cy="634.1" r="6.94"/>
<circle cx="314.1" cy="633.4" r="6.94"/>
<circle cx="314.3" cy="633.1" r="6.94"/>
<circle cx="314.7" cy="632.3" r="6.94"/>
<circle cx="315.1" cy="631.2" r="6.94"/>
<circle cx="315.3" cy="630.6" r="6.94"/>
<circle cx="315.4" cy="630.4" r="6.94"/>
<circle cx="315.7" cy="629.6" r="6.94"/>
<circle cx="316.0" cy="628.7" r="6.94"/>
<circle cx="316.0" cy="628.6" r="6.94"/>
<circle cx="316.3" cy="628.2" r="6.94"/>
<circle cx="316.4" cy="627.8" r="6.94"/>
<circle cx="317.0" cy="627.2" r="6.94"/>
<circle cx="317.4" cy="626.8" r="6.94"/>
<circle cx="317.6" cy="626.5" r="6.94"/>
<circle cx="318.0" cy="625.5" r="6.94"/>
<circle cx="318.3" cy="624.6" r="6.94"/>
<circle cx="318.5" cy="624.0" r="6.94"/>
<circle cx="319.0" cy="622.6" r="6.94"/>
<circle cx="319.2" cy="622.2" r="6.94"/>
<circle cx="319.2" cy="622.2" r="6.94"/>
<circle cx="320.0" cy="620.7" r="6.94"/>
<circle cx="320.2" cy="620.5" r="6.94"/>
<circle cx="320.6" cy="620.1" r="6.94"/>
<circle cx="321.6" cy="619.6" r="6.94"/>
<circle cx="321.7" cy="619.6" r="6.94"/>
<circle cx="322.0" cy="619.5" r="6.94"/>
<circle cx="322.0" cy="619.5" r="6.94"/>
<circle cx="322.9" cy="618.2" r="6.94"/>
<circle cx="323.0" cy="618.0" r="6.94"/>
<circle cx="323.6" cy="617.2" r="6.94"/>
<circle cx="324.1" cy="617.4" r="6.94"/>
<circle cx="324.2" cy="617.4" r="6.94"/>
<circle cx="324.2" cy="617.4" r="6.94"/>
<circle cx="324.3" cy="617.4" r="6.94"/>
<circle cx="325.8" cy="614.7" r="6.94"/>
<circle cx="325.8" cy="614.7" r="6.94"/>
<circle cx="325.9" cy="613.9" r="6.94"/>
<circle cx="326.4" cy="611.5" r="6.94"/>
<circle cx="326.6" cy="610.8" r="6.94"/>
<circle cx="327.1" cy="609.5" r="6.94"/>
<circle cx="327.9" cy="610.5" r="6.94"/>
<circle cx="328.3" cy="611.6" r="6.94"/>
<circle cx="328.5" cy="612.1" r="6.94"/>
<circle cx="328.6" cy="612.2" r="6.94"/>
<circle cx="329.0" cy="612.8" r="6.94"/>
<circle cx="329.1" cy="612.9" r="6.94"/>
<circle cx="330.2" cy="611.9" r="6.94"/>
<circle cx="330.6" cy="611.1" r="6.94"/>
<circle cx="331.1" cy="610.0" r="6.94"/>
<circle cx="331.2" cy="609.9" r="6.94"/>
<circle cx="331.8" cy="609.2" r="6.94"/>
<circle cx="332.5" cy="609.0" r="6.94"/>
<circle cx="332.9" cy="608.8" r="6.94"/>
<circle cx="333.5" cy="608.2" r="6.94"/>
<circle cx="333.9" cy="607.4" r="6.94"/>
<circle cx="333.9" cy="607.4" r="6.94"/>
<circle cx="335.4" cy="605.0" r="6.94"/>
<circle cx="335.6" cy="604.8" r="6.94"/>
<circle cx="335.7" cy="604.8" r="6.94"/>
<circle cx="335.7" cy="604.8" r="6.94"/>
<circle cx="336.6" cy="604.8" r="6.94"/>
<circle cx="336.6" cy="604.8" r="6.94"/>
<circle cx="336.7" cy="604.8" r="6.94"/>
<circle cx="337.0" cy="605.0" r="6.94"/>
<circle cx="337.3" cy="605.1" r="6.94"/>
<circle cx="338.0" cy="604.7" r="6.94"/>
<circle cx="338.6" cy="603.7" r="6.94"/>
<circle cx="339.8" cy="601.9" r="6.94"/>
<circle cx="340.2" cy="601.3" r="6.94"/>
<circle cx="340.6" cy="600.3" r="6.94"/>
<circle cx="340.6" cy="600.1" r="6.94"/>
<circle cx="341.4" cy="598.2" r="6.94"/>
<circle cx="341.6" cy="597.9" r="6.94"/>
<circle cx="341.6" cy="597.9" r="6.94"/>
<circle cx="342.3" cy="597.1" r="6.94"/>
<circle cx="342.6" cy="597.1" r="6.94"/>
<circle cx="342.8" cy="597.2" r="6.94"/>
<circle cx="343.3" cy="597.4" r="6.94"/>
<circle cx="344.3" cy="597.6" r="6.94"/>
<circle cx="344.9" cy="596.9" r="6.94"/>
<circle cx="345.4" cy="596.2" r="6.94"/>
<circle cx="345.7" cy="595.7" r="6.94"/>
<circle cx="346.3" cy="594.9" r="6.94"/>
<circle cx="346.3" cy="594.9" r="6.94"/>
<circle cx="346.7" cy="594.0" r="6.94"/>
<circle cx="347.1" cy="593.2" r="6.94"/>
<circle cx="347.9" cy="591.8" r="6.94"/>
<circle cx="348.4" cy="591.5" r="6.94"/>
<circle cx="348.6" cy="591.5" r="6.94"/>
<circle cx="349.5" cy="591.8" r="6.94"/>
<circle cx="350.2" cy="590.7" r="6.94"/>
<circle cx="350.3" cy="590.3" r="6.94"/>
<circle cx="350.3" cy="590.3" r="6.94"/>
<circle cx="350.8" cy="588.8" r="6.94"/>
<circle cx="351.5" cy="586.6" r="6.94"/>
<circle cx="352.3" cy="585.3" r="6.94"/>
<circle cx="352.5" cy="585.2" r="6.94"/>
<circle cx="352.9" cy="585.1" r="6.94"/>
<circle cx="354.0" cy="585.1" r="6.94"/>
<circle cx="354.1" cy="585.0" r="6.94"/>
<circle cx="354.2" cy="585.0" r="6.94"/>
<circle cx="355.2" cy="583.5" r="6.94"/>
<circle cx="355.5" cy="583.3" r="6.94"/>
<circle cx="355.8" cy="583.2" r="6.94"/>
<circle cx="356.1" cy="583.3" r="6.94"/>
<circle cx="356.8" cy="583.2" r="6.94"/>
<circle cx="357.1" cy="582.9" r="6.94"/>
<circle cx="357.1" cy="582.8" r="6.94"/>
<circle cx="357.6" cy="581.9" r="6.94"/>
<circle cx="358.2" cy="579.8" r="6.94"/>
<circle cx="358.8" cy="578.2" r="6.94"/>
<circle cx="359.2" cy="577.5" r="6.94"/>
<circle cx="359.2" cy="577.5" r="6.94"/>
<circle cx="360.4" cy="576.9" r="6.94"/>
<circle cx="360.4" cy="576.9" r="6.94"/>
<circle cx="361.1" cy="577.1" r="6.94"/>
<circle cx="361.2" cy="577.1" r="6.94"/>
<circle cx="361.3" cy="577.1" r="6.94"/>
<circle cx="362.2" cy="577.0" r="6.94"/>
<circle cx="362.8" cy="576.2" r="6.94"/>
<circle cx="363.0" cy="575.9" r="6.94"/>
<circle cx="363.9" cy="574.7" r="6.94"/>
<circle cx="364.0" cy="574.7" r="6.94"/>
<circle cx="364.4" cy="574.7" r="6.94"/>
<circle cx="365.3" cy="574.5" r="6.94"/>
<circle cx="366.3" cy="572.8" r="6.94"/>
<circle cx="366.4" cy="572.7" r="6.94"/>
<circle cx="366.6" cy="572.2" r="6.94"/>
<circle cx="367.5" cy="571.7" r="6.94"/>
<circle cx="367.5" cy="571.7" r="6.94"/>
<circle cx="367.9" cy="571.9" r="6.94"/>
<circle cx="368.7" cy="572.1" r="6.94"/>
<circle cx="369.4" cy="572.0" r="6.94"/>
<circle cx="369.9" cy="571.6" r="6.94"/>
<circle cx="370.2" cy="571.2" r="6.94"/>
<circle cx="370.3" cy="571.0" r="6.94"/>
<circle cx="370.6" cy="570.3" r="6.94"/>
<circle cx="371.1" cy="569.1" r="6.94"/>
<circle cx="371.7" cy="567.7" r="6.94"/>
<circle cx="372.8" cy="566.3" r="6.94"/>
<circle cx="372.8" cy="566.3" r="6.94"/>
<circle cx="373.1" cy="566.2" r="6.94"/>
<circle cx="373.1" cy="566.1" r="6.94"/>
<circle cx="374.1" cy="566.1" r="6.94"/>
<circle cx="374.7" cy="566.3" r="6.94"/>
<circle cx="375.5" cy="566.0" r="6.94"/>
<circle cx="376.2" cy="564.8" r="6.94"/>
<circle cx="376.3" cy="564.5" r="6.94"/>
<circle cx="376.7" cy="563.8" r="6.94"/>
<circle cx="377.0" cy="563.0" r="6.94"/>
<circle cx="377.5" cy="562.0" r="6.94"/>
<circle cx="378.8" cy="561.0" r="6.94"/>
<circle cx="379.2" cy="561.4" r="6.94"/>
<circle cx="379.2" cy="561.4" r="6.94"/>
<circle cx="379.9" cy="561.9" r="6.94"/>
<circle cx="380.0" cy="561.9" r="6.94"/>
<circle cx="380.0" cy="561.9" r="6.94"/>
<circle cx="380.7" cy="561.1" r="6.94"/>
<circle cx="381.4" cy="559.4" r="6.94"/>
<circle cx="382.9" cy="557.9" r="6.94"/>
<circle cx="383.0" cy="557.9" r="6.94"/>
<circle cx="383.3" cy="558.0" r="6.94"/>
<circle cx="383.7" cy="557.9" r="6.94"/>
<circle cx="384.2" cy="557.5" r="6.94"/>
<circle cx="384.2" cy="557.4" r="6.94"/>
<circle cx="385.2" cy="555.0" r="6.94"/>
<circle cx="385.7" cy="554.0" r="6.94"/>
<circle cx="385.9" cy="553.7" r="6.94"/>
<circle cx="387.0" cy="552.3" r="6.94"/>
<circle cx="387.2" cy="552.0" r="6.94"/>
<circle cx="387.4" cy="551.7" r="6.94"/>
<circle cx="387.6" cy="551.4" r="6.94"/>
<circle cx="388.7" cy="550.4" r="6.94"/>
<circle cx="388.9" cy="550.6" r="6.94"/>
<circle cx="388.9" cy="550.6" r="6.94"/>
<circle cx="390.4" cy="551.7" r="6.94"/>
<circle cx="390.5" cy="551.5" r="6.94"/>
<circle cx="390.7" cy="551.2" r="6.94"/>
<circle cx="391.1" cy="550.2" r="6.94"/>
<circle cx="392.1" cy="546.8" r="6.94"/>
<circle cx="392.2" cy="546.4" r="6.94"/>
<circle cx="392.9" cy="544.4" r="6.94"/>
<circle cx="394.2" cy="543.0" r="6.94"/>
<circle cx="394.2" cy="543.0" r="6.94"/>
<circle cx="394.7" cy="543.0" r="6.94"/>
<circle cx="395.3" cy="542.9" r="6.94"/>
<circle cx="396.7" cy="542.3" r="6.94"/>
<circle cx="397.1" cy="542.2" r="6.94"/>
<circle cx="397.2" cy="542.2" r="6.94"/>
<circle cx="398.2" cy="542.4" r="6.94"/>
<circle cx="398.4" cy="542.6" r="6.94"/>
<circle cx="398.6" cy="542.7" r="6.94"/>
<circle cx="398.7" cy="542.8" r="6.94"/>
<circle cx="398.8" cy="542.9" r="6.94"/>
<circle cx="400.5" cy="541.3" r="6.94"/>
<circle cx="400.8" cy="540.7" r="6.94"/>
<circle cx="401.1" cy="540.2" r="6.94"/>
<circle cx="401.9" cy="539.6" r="6.94"/>
<circle cx="402.1" cy="539.5" r="6.94"/>
<circle cx="402.9" cy="538.4" r="6.94"/>
<circle cx="403.1" cy="537.9" r="6.94"/>
<circle cx="404.1" cy="535.9" r="6.94"/>
<circle cx="404.3" cy="535.8" r="6.94"/>
<circle cx="404.8" cy="536.0" r="6.94"/>
<circle cx="405.9" cy="536.7" r="6.94"/>
<circle cx="406.2" cy="536.5" r="6.94"/>
<circle cx="406.4" cy="536.2" r="6.94"/>
<circle cx="406.7" cy="535.4" r="6.94"/>
<circle cx="406.8" cy="534.8" r="6.94"/>
<circle cx="407.3" cy="533.1" r="6.94"/>
<circle cx="409.3" cy="532.2" r="6.94"/>
<circle cx="409.4" cy="532.4" r="6.94"/>
<circle cx="409.6" cy="532.6" r="6.94"/>
<circle cx="410.6" cy="531.0" r="6.94"/>
<circle cx="410.6" cy="530.9" r="6.94"/>
<circle cx="411.5" cy="527.8" r="6.94"/>
<circle cx="411.6" cy="527.5" r="6.94"/>
<circle cx="412.1" cy="526.7" r="6.94"/>
<circle cx="412.3" cy="526.7" r="6.94"/>
<circle cx="412.5" cy="526.7" r="6.94"/>
<circle cx="412.9" cy="527.3" r="6.94"/>
<circle cx="413.7" cy="528.2" r="6.94"/>
<circle cx="414.4" cy="527.1" r="6.94"/>
<circle cx="415.1" cy="524.7" r="6.94"/>
<circle cx="415.5" cy="523.8" r="6.94"/>
<circle cx="416.1" cy="522.8" r="6.94"/>
<circle cx="416.8" cy="522.4" r="6.94"/>
<circle cx="417.0" cy="522.4" r="6.94"/>
<circle cx="417.5" cy="522.2" r="6.94"/>
<circle cx="418.8" cy="521.5" r="6.94"/>
<circle cx="419.9" cy="519.6" r="6.94"/>
<circle cx="420.3" cy="518.9" r="6.94"/>
<circle cx="420.8" cy="518.8" r="6.94"/>
<circle cx="421.2" cy="519.3" r="6.94"/>
<circle cx="421.5" cy="519.6" r="6.94"/>
<circle cx="421.5" cy="519.8" r="6.94"/>
<circle cx="421.7" cy="520.1" r="6.94"/>
<circle cx="423.3" cy="519.8" r="6.94"/>
<circle cx="423.6" cy="519.1" r="6.94"/>
<circle cx="423.9" cy="518.5" r="6.94"/>
<circle cx="424.5" cy="517.3" r="6.94"/>
<circle cx="424.8" cy="516.6" r="6.94"/>
<circle cx="424.9" cy="516.5" r="6.94"/>
<circle cx="426.0" cy="515.0" r="6.94"/>
<circle cx="427.2" cy="515.1" r="6.94"/>
<circle cx="427.6" cy="515.7" r="6.94"/>
<circle cx="427.8" cy="515.9" r="6.94"/>
<circle cx="428.7" cy="516.7" r="6.94"/>
<circle cx="429.1" cy="517.0" r="6.94"/>
<circle cx="429.8" cy="517.2" r="6.94"/>
<circle cx="430.5" cy="516.2" r="6.94"/>
<circle cx="430.6" cy="515.9" r="6.94"/>
<circle cx="432.3" cy="510.3" r="6.94"/>
<circle cx="432.4" cy="510.2" r="6.94"/>
<circle cx="433.4" cy="509.0" r="6.94"/>
<circle cx="433.8" cy="509.2" r="6.94"/>
<circle cx="434.2" cy="509.5" r="6.94"/>
<circle cx="434.4" cy="509.8" r="6.94"/>
<circle cx="434.9" cy="510.9" r="6.94"/>
<circle cx="435.6" cy="512.3" r="6.94"/>
<circle cx="437.0" cy="511.8" r="6.94"/>
<circle cx="437.2" cy="511.4" r="6.94"/>
<circle cx="437.3" cy="511.2" r="6.94"/>
<circle cx="438.9" cy="507.7" r="6.94"/>
<circle cx="439.1" cy="507.5" r="6.94"/>
<circle cx="439.7" cy="506.9" r="6.94"/>
<circle cx="440.7" cy="505.7" r="6.94"/>
<circle cx="441.2" cy="505.2" r="6.94"/>
<circle cx="441.6" cy="504.9" r="6.94"/>
<circle cx="441.6" cy="504.9" r="6.94"/>
<circle cx="443.2" cy="502.4" r="6.94"/>
<circle cx="443.4" cy="502.0" r="6.94"/>
<circle cx="443.4" cy="502.0" r="6.94"/>
<circle cx="445.5" cy="502.5" r="6.94"/>
<circle cx="445.9" cy="502.7" r="6.94"/>
<circle cx="446.3" cy="502.6" r="6.94"/>
<circle cx="446.7" cy="502.3" r="6.94"/>
<circle cx="447.1" cy="501.9" r="6.94"/>
<circle cx="448.4" cy="501.2" r="6.94"/>
<circle cx="449.7" cy="500.4" r="6.94"/>
<circle cx="450.3" cy="499.0" r="6.94"/>
<circle cx="450.5" cy="498.6" r="6.94"/>
<circle cx="451.0" cy="497.7" r="6.94"/>
<circle cx="451.6" cy="498.1" r="6.94"/>
<circle cx="451.9" cy="498.5" r="6.94"/>
<circle cx="452.2" cy="498.9" r="6.94"/>
<circle cx="452.6" cy="498.9" r="6.94"/>
<circle cx="453.9" cy="495.7" r="6.94"/>
<circle cx="454.9" cy="494.1" r="6.94"/>
<circle cx="455.0" cy="494.1" r="6.94"/>
<circle cx="456.2" cy="494.0" r="6.94"/>
<circle cx="456.2" cy="494.0" r="6.94"/>
<circle cx="457.1" cy="492.0" r="6.94"/>
<circle cx="457.9" cy="490.1" r="6.94"/>
<circle cx="458.3" cy="489.4" r="6.94"/>
<circle cx="459.0" cy="489.8" r="6.94"/>
<circle cx="459.1" cy="489.9" r="6.94"/>
<circle cx="459.7" cy="491.0" r="6.94"/>
<circle cx="459.8" cy="491.1" r="6.94"/>
<circle cx="461.0" cy="491.2" r="6.94"/>
<circle cx="462.1" cy="488.9" r="6.94"/>
<circle cx="462.2" cy="488.7" r="6.94"/>
<circle cx="462.4" cy="488.2" r="6.94"/>
<circle cx="464.1" cy="485.4" r="6.94"/>
<circle cx="464.6" cy="484.8" r="6.94"/>
<circle cx="465.0" cy="484.3" r="6.94"/>
<circle cx="466.0" cy="483.7" r="6.94"/>
<circle cx="466.5" cy="483.6" r="6.94"/>
<circle cx="466.8" cy="483.5" r="6.94"/>
<circle cx="468.2" cy="482.6" r="6.94"/>
<circle cx="468.4" cy="482.5" r="6.94"/>
<circle cx="468.5" cy="482.5" r="6.94"/>
<circle cx="469.2" cy="482.5" r="6.94"/>
<circle cx="470.1" cy="480.9" r="6.94"/>
<circle cx="470.6" cy="479.7" r="6.94"/>
<circle cx="471.4" cy="477.9" r="6.94"/>
<circle cx="471.7" cy="477.5" r="6.94"/>
<circle cx="471.8" cy="477.4" r="6.94"/>
<circle cx="472.8" cy="477.5" r="6.94"/>
<circle cx="474.5" cy="477.8" r="6.94"/>
<circle cx="475.5" cy="477.3" r="6.94"/>
<circle cx="475.7" cy="477.2" r="6.94"/>
<circle cx="475.8" cy="477.0" r="6.94"/>
<circle cx="476.2" cy="476.5" r="6.94"/>
<circle cx="476.4" cy="476.3" r="6.94"/>
<circle cx="477.4" cy="476.3" r="6.94"/>
<circle cx="478.8" cy="474.5" r="6.94"/>
<circle cx="479.4" cy="473.5" r="6.94"/>
<circle cx="480.0" cy="473.1" r="6.94"/>
<circle cx="481.3" cy="474.4" r="6.94"/>
<circle cx="481.6" cy="474.4" r="6.94"/>
<circle cx="482.7" cy="473.6" r="6.94"/>
<circle cx="483.9" cy="473.3" r="6.94"/>
<circle cx="484.4" cy="473.2" r="6.94"/>
<circle cx="485.5" cy="474.0" r="6.94"/>
<circle cx="485.6" cy="474.2" r="6.94"/>
<circle cx="487.7" cy="472.1" r="6.94"/>
<circle cx="488.1" cy="471.1" r="6.94"/>
<circle cx="488.3" cy="470.7" r="6.94"/>
<circle cx="488.9" cy="470.2" r="6.94"/>
<circle cx="489.2" cy="470.0" r="6.94"/>
<circle cx="490.8" cy="469.1" r="6.94"/>
<circle cx="491.9" cy="470.6" r="6.94"/>
<circle cx="492.1" cy="470.8" r="6.94"/>
<circle cx="493.0" cy="470.9" r="6.94"/>
<circle cx="493.9" cy="469.2" r="6.94"/>
<circle cx="494.8" cy="466.9" r="6.94"/>
<circle cx="494.9" cy="466.6" r="6.94"/>
<circle cx="494.9" cy="466.5" r="6.94"/>
<circle cx="495.4" cy="465.4" r="6.94"/>
<circle cx="495.6" cy="465.1" r="6.94"/>
<circle cx="496.6" cy="465.3" r="6.94"/>
<circle cx="497.0" cy="465.6" r="6.94"/>
<circle cx="497.2" cy="465.7" r="6.94"/>
<circle cx="497.9" cy="465.6" r="6.94"/>
<circle cx="498.2" cy="465.2" r="6.94"/>
<circle cx="498.6" cy="464.6" r="6.94"/>
<circle cx="499.1" cy="463.6" r="6.94"/>
<circle cx="499.9" cy="461.2" r="6.94"/>
<circle cx="500.0" cy="460.6" r="6.94"/>
<circle cx="500.5" cy="458.2" r="6.94"/>
<circle cx="500.6" cy="457.7" r="6.94"/>
<circle cx="502.0" cy="453.7" r="6.94"/>
<circle cx="502.3" cy="453.4" r="6.94"/>
<circle cx="502.6" cy="453.4" r="6.94"/>
<circle cx="503.8" cy="452.7" r="6.94"/>
<circle cx="504.2" cy="452.1" r="6.94"/>
<circle cx="504.7" cy="451.5" r="6.94"/>
<circle cx="504.8" cy="451.5" r="6.94"/>
<circle cx="505.5" cy="450.6" r="6.94"/>
<circle cx="505.6" cy="450.5" r="6.94"/>
<circle cx="506.4" cy="449.0" r="6.94"/>
<circle cx="506.7" cy="448.3" r="6.94"/>
<circle cx="507.1" cy="447.4" r="6.94"/>
<circle cx="507.5" cy="446.6" r="6.94"/>
<circle cx="508.2" cy="445.4" r="6.94"/>
<circle cx="509.6" cy="445.6" r="6.94"/>
<circle cx="510.3" cy="445.9" r="6.94"/>
<circle cx="510.8" cy="445.8" r="6.94"/>
<circle cx="510.8" cy="445.8" r="6.94"/>
<circle cx="512.4" cy="443.2" r="6.94"/>
<circle cx="513.1" cy="441.1" r="6.94"/>
<circle cx="513.3" cy="440.7" r="6.94"/>
<circle cx="513.5" cy="440.5" r="6.94"/>
<circle cx="514.2" cy="439.9" r="6.94"/>
<circle cx="515.6" cy="437.9" r="6.94"/>
<circle cx="515.9" cy="437.3" r="6.94"/>
<circle cx="516.0" cy="436.9" r="6.94"/>
<circle cx="516.1" cy="436.7" r="6.94"/>
<circle cx="516.4" cy="435.9" r="6.94"/>
<circle cx="518.0" cy="436.8" r="6.94"/>
<circle cx="518.6" cy="438.1" r="6.94"/>
<circle cx="519.2" cy="438.8" r="6.94"/>
<circle cx="520.2" cy="437.5" r="6.94"/>
<circle cx="520.3" cy="437.3" r="6.94"/>
<circle cx="521.2" cy="436.5" r="6.94"/>
<circle cx="521.6" cy="436.4" r="6.94"/>
<circle cx="522.2" cy="436.1" r="6.94"/>
<circle cx="523.4" cy="435.3" r="6.94"/>
<circle cx="524.0" cy="434.8" r="6.94"/>
<circle cx="524.4" cy="434.2" r="6.94"/>
<circle cx="525.4" cy="431.6" r="6.94"/>
<circle cx="526.0" cy="430.4" r="6.94"/>
<circle cx="526.2" cy="430.2" r="6.94"/>
<circle cx="527.4" cy="429.2" r="6.94"/>
<circle cx="528.0" cy="429.1" r="6.94"/>
<circle cx="528.0" cy="429.1" r="6.94"/>
<circle cx="528.4" cy="429.1" r="6.94"/>
<circle cx="529.3" cy="428.8" r="6.94"/>
<circle cx="530.7" cy="426.4" r="6.94"/>
<circle cx="531.3" cy="425.4" r="6.94"/>
<circle cx="531.8" cy="424.3" r="6.94"/>
<circle cx="532.1" cy="423.5" r="6.94"/>
<circle cx="532.5" cy="422.1" r="6.94"/>
<circle cx="533.0" cy="420.5" r="6.94"/>
<circle cx="534.2" cy="418.4" r="6.94"/>
<circle cx="534.2" cy="418.4" r="6.94"/>
<circle cx="534.6" cy="418.4" r="6.94"/>
<circle cx="535.3" cy="417.7" r="6.94"/>
<circle cx="535.4" cy="417.5" r="6.94"/>
<circle cx="536.7" cy="414.6" r="6.94"/>
<circle cx="536.9" cy="414.4" r="6.94"/>
<circle cx="537.6" cy="414.4" r="6.94"/>
<circle cx="539.1" cy="413.6" r="6.94"/>
<circle cx="539.5" cy="412.4" r="6.94"/>
<circle cx="540.3" cy="410.1" r="6.94"/>
<circle cx="540.3" cy="410.0" r="6.94"/>
<circle cx="540.4" cy="409.8" r="6.94"/>
<circle cx="541.0" cy="408.6" r="6.94"/>
<circle cx="541.7" cy="407.3" r="6.94"/>
<circle cx="542.4" cy="406.2" r="6.94"/>
<circle cx="542.7" cy="405.8" r="6.94"/>
<circle cx="543.1" cy="405.4" r="6.94"/>
<circle cx="543.7" cy="404.9" r="6.94"/>
<circle cx="544.0" cy="404.6" r="6.94"/>
<circle cx="544.3" cy="404.2" r="6.94"/>
<circle cx="545.1" cy="402.3" r="6.94"/>
<circle cx="546.0" cy="400.9" r="6.94"/>
<circle cx="546.1" cy="400.9" r="6.94"/>
<circle cx="547.3" cy="400.7" r="6.94"/>
<circle cx="547.3" cy="400.5" r="6.94"/>
<circle cx="547.4" cy="400.4" r="6.94"/>
<circle cx="548.3" cy="397.2" r="6.94"/>
<circle cx="548.6" cy="395.9" r="6.94"/>
<circle cx="549.0" cy="394.9" r="6.94"/>
<circle cx="549.3" cy="394.4" r="6.94"/>
<circle cx="549.7" cy="394.2" r="6.94"/>
<circle cx="549.7" cy="394.2" r="6.94"/>
<circle cx="549.9" cy="394.2" r="6.94"/>
<circle cx="551.3" cy="392.4" r="6.94"/>
<circle cx="551.7" cy="391.6" r="6.94"/>
<circle cx="551.7" cy="391.6" r="6.94"/>
<circle cx="552.3" cy="390.0" r="6.94"/>
<circle cx="552.7" cy="389.0" r="6.94"/>
<circle cx="553.9" cy="386.6" r="6.94"/>
<circle cx="554.4" cy="386.3" r="6.94"/>
<circle cx="554.6" cy="386.2" r="6.94"/>
<circle cx="555.3" cy="385.9" r="6.94"/>
<circle cx="555.6" cy="385.7" r="6.94"/>
<circle cx="556.4" cy="384.7" r="6.94"/>
<circle cx="556.8" cy="383.8" r="6.94"/>
<circle cx="557.4" cy="382.0" r="6.94"/>
<circle cx="558.0" cy="380.5" r="6.94"/>
<circle cx="558.2" cy="380.2" r="6.94"/>
<circle cx="558.3" cy="380.1" r="6.94"/>
<circle cx="558.9" cy="379.4" r="6.94"/>
<circle cx="559.4" cy="378.6" r="6.94"/>
<circle cx="559.7" cy="378.1" r="6.94"/>
<circle cx="560.3" cy="376.8" r="6.94"/>
<circle cx="561.8" cy="374.0" r="6.94"/>
<circle cx="562.0" cy="373.9" r="6.94"/>
<circle cx="562.4" cy="373.9" r="6.94"/>
<circle cx="562.6" cy="373.9" r="6.94"/>
<circle cx="562.8" cy="373.9" r="6.94"/>
<circle cx="563.1" cy="373.8" r="6.94"/>
<circle cx="564.1" cy="372.8" r="6.94"/>
<circle cx="565.8" cy="368.6" r="6.94"/>
<circle cx="565.9" cy="368.5" r="6.94"/>
<circle cx="566.8" cy="366.7" r="6.94"/>
<circle cx="566.9" cy="366.5" r="6.94"/>
<circle cx="567.9" cy="364.9" r="6.94"/>
<circle cx="569.0" cy="363.4" r="6.94"/>
<circle cx="569.2" cy="363.4" r="6.94"/>
<circle cx="570.2" cy="362.5" r="6.94"/>
<circle cx="570.6" cy="362.2" r="6.94"/>
<circle cx="571.1" cy="362.0" r="6.94"/>
<circle cx="571.2" cy="361.9" r="6.94"/>
<circle cx="571.2" cy="361.9" r="6.94"/>
<circle cx="572.1" cy="360.2" r="6.94"/>
<circle cx="573.1" cy="358.0" r="6.94"/>
<circle cx="574.0" cy="357.8" r="6.94"/>
<circle cx="574.2" cy="358.0" r="6.94"/>
<circle cx="574.5" cy="358.3" r="6.94"/>
<circle cx="575.3" cy="358.0" r="6.94"/>
<circle cx="576.4" cy="355.1" r="6.94"/>
<circle cx="577.5" cy="351.3" r="6.94"/>
<circle cx="578.3" cy="349.8" r="6.94"/>
<circle cx="579.5" cy="349.5" r="6.94"/>
<circle cx="580.6" cy="348.9" r="6.94"/>
<circle cx="580.7" cy="348.8" r="6.94"/>
<circle cx="580.7" cy="348.8" r="6.94"/>
<circle cx="581.9" cy="348.2" r="6.94"/>
<circle cx="582.7" cy="347.1" r="6.94"/>
<circle cx="582.8" cy="347.0" r="6.94"/>
<circle cx="583.2" cy="346.4" r="6.94"/>
<circle cx="583.5" cy="346.3" r="6.94"/>
<circle cx="584.9" cy="347.0" r="6.94"/>
<circle cx="585.9" cy="345.9" r="6.94"/>
<circle cx="586.0" cy="345.7" r="6.94"/>
<circle cx="586.9" cy="343.1" r="6.94"/>
<circle cx="587.5" cy="342.4" r="6.94"/>
<circle cx="587.7" cy="342.3" r="6.94"/>
<circle cx="588.6" cy="341.9" r="6.94"/>
<circle cx="588.9" cy="341.5" r="6.94"/>
<circle cx="589.7" cy="339.9" r="6.94"/>
<circle cx="590.0" cy="339.2" r="6.94"/>
<circle cx="590.7" cy="337.5" r="6.94"/>
<circle cx="591.9" cy="335.5" r="6.94"/>
<circle cx="592.8" cy="334.2" r="6.94"/>
<circle cx="592.8" cy="334.2" r="6.94"/>
<circle cx="593.1" cy="333.6" r="6.94"/>
<circle cx="593.3" cy="333.3" r="6.94"/>
<circle cx="594.8" cy="330.6" r="6.94"/>
<circle cx="595.2" cy="330.2" r="6.94"/>
<circle cx="596.0" cy="329.6" r="6.94"/>
<circle cx="596.1" cy="329.5" r="6.94"/>
<circle cx="596.1" cy="329.5" r="6.94"/>
<circle cx="596.6" cy="328.8" r="6.94"/>
<circle cx="597.9" cy="325.7" r="6.94"/>
<circle cx="597.9" cy="325.6" r="6.94"/>
<circle cx="598.8" cy="323.6" r="6.94"/>
<circle cx="598.8" cy="323.6" r="6.94"/>
<circle cx="598.9" cy="323.5" r="6.94"/>
<circle cx="598.9" cy="323.5" r="6.94"/>
<circle cx="600.0" cy="321.0" r="6.94"/>
<circle cx="600.6" cy="319.5" r="6.94"/>
<circle cx="601.7" cy="317.1" r="6.94"/>
<circle cx="602.0" cy="316.8" r="6.94"/>
<circle cx="602.7" cy="316.0" r="6.94"/>
<circle cx="603.1" cy="315.5" r="6.94"/>
<circle cx="603.5" cy="314.8" r="6.94"/>
<circle cx="604.5" cy="313.5" r="6.94"/>
<circle cx="605.1" cy="313.2" r="6.94"/>
<circle cx="606.1" cy="312.0" r="6.94"/>
<circle cx="606.5" cy="311.5" r="6.94"/>
<circle cx="606.6" cy="311.4" r="6.94"/>
<circle cx="606.9" cy="311.1" r="6.94"/>
<circle cx="608.1" cy="309.6" r="6.94"/>
<circle cx="608.8" cy="307.5" r="6.94"/>
<circle cx="609.6" cy="304.7" r="6.94"/>
<circle cx="609.8" cy="304.4" r="6.94"/>
<circle cx="610.2" cy="304.4" r="6.94"/>
<circle cx="611.3" cy="305.4" r="6.94"/>
<circle cx="611.8" cy="304.9" r="6.94"/>
<circle cx="613.3" cy="300.0" r="6.94"/>
<circle cx="613.7" cy="299.6" r="6.94"/>
<circle cx="615.6" cy="297.9" r="6.94"/>
<circle cx="616.5" cy="297.3" r="6.94"/>
<circle cx="617.2" cy="297.2" r="6.94"/>
<circle cx="618.0" cy="295.3" r="6.94"/>
<circle cx="618.6" cy="292.8" r="6.94"/>
<circle cx="620.7" cy="288.7" r="6.94"/>
<circle cx="621.3" cy="287.7" r="6.94"/>
<circle cx="621.9" cy="286.9" r="6.94"/>
<circle cx="622.9" cy="286.7" r="6.94"/>
<circle cx="624.2" cy="285.8" r="6.94"/>
<circle cx="627.1" cy="279.6" r="6.94"/>
<circle cx="627.2" cy="279.5" r="6.94"/>
<circle cx="627.2" cy="279.4" r="6.94"/>
<circle cx="627.6" cy="278.7" r="6.94"/>
<circle cx="629.4" cy="277.1" r="6.94"/>
<circle cx="629.9" cy="276.9" r="6.94"/>
<circle cx="630.3" cy="276.2" r="6.94"/>
<circle cx="630.6" cy="275.6" r="6.94"/>
<circle cx="631.6" cy="273.4" r="6.94"/>
<circle cx="632.4" cy="273.9" r="6.94"/>
<circle cx="632.5" cy="273.9" r="6.94"/>
<circle cx="633.0" cy="274.4" r="6.94"/>
<circle cx="633.6" cy="274.3" r="6.94"/>
<circle cx="634.6" cy="272.1" r="6.94"/>
<circle cx="634.6" cy="271.9" r="6.94"/>
<circle cx="634.8" cy="271.4" r="6.94"/>
<circle cx="639.7" cy="268.8" r="6.94"/>
<circle cx="640.3" cy="268.3" r="6.94"/>
<circle cx="640.5" cy="268.2" r="6.94"/>
<circle cx="642.3" cy="269.6" r="6.94"/>
<circle cx="642.6" cy="269.6" r="6.94"/>
<circle cx="643.1" cy="268.6" r="6.94"/>
<circle cx="643.3" cy="268.3" r="6.94"/>
<circle cx="644.8" cy="263.4" r="6.94"/>
<circle cx="647.3" cy="264.0" r="6.94"/>
<circle cx="648.8" cy="260.7" r="6.94"/>
<circle cx="649.1" cy="260.5" r="6.94"/>
<circle cx="649.1" cy="260.5" r="6.94"/>
<circle cx="651.6" cy="260.1" r="6.94"/>
<circle cx="652.0" cy="259.0" r="6.94"/>
<circle cx="654.9" cy="257.8" r="6.94"/>
<circle cx="657.3" cy="257.6" r="6.94"/>
<circle cx="657.8" cy="257.6" r="6.94"/>
<circle cx="659.2" cy="257.1" r="6.94"/>
<circle cx="659.5" cy="256.5" r="6.94"/>
<circle cx="661.8" cy="253.1" r="6.94"/>
<circle cx="661.8" cy="253.1" r="6.94"/>
<circle cx="663.1" cy="253.0" r="6.94"/>
<circle cx="665.5" cy="249.5" r="6.94"/>
<circle cx="666.4" cy="249.7" r="6.94"/>
<circle cx="667.4" cy="249.5" r="6.94"/>
<circle cx="668.2" cy="248.6" r="6.94"/>
<circle cx="671.9" cy="244.0" r="6.94"/>
<circle cx="673.1" cy="242.0" r="6.94"/>
<circle cx="673.1" cy="242.0" r="6.94"/>
<circle cx="673.2" cy="241.9" r="6.94"/>
<circle cx="675.5" cy="241.4" r="6.94"/>
<circle cx="677.9" cy="235.3" r="6.94"/>
<circle cx="678.8" cy="234.0" r="6.94"/>
<circle cx="679.6" cy="235.0" r="6.94"/>
<circle cx="683.3" cy="219.7" r="6.94"/>
<circle cx="683.7" cy="211.4" r="6.94"/>
<circle cx="684.7" cy="207.7" r="6.94"/>
<circle cx="685.7" cy="203.9" r="6.94"/>
<circle cx="686.8" cy="200.5" r="6.94"/>
<circle cx="687.9" cy="197.7" r="6.94"/>
<circle cx="688.3" cy="185.5" r="6.94"/>
<circle cx="696.4" cy="185.5" r="6.94"/>
<circle cx="702.5" cy="171.4" r="6.94"/>
<circle cx="702.5" cy="145.3" r="6.94"/>
</g>
<path d="M113.4 844.6L702.3 223.1" stroke="#f00" stroke-opacity="0.335" stroke-width="4.17" stroke-linecap="square"/>
<path d="M72.07 883.29L853.86 106.95" stroke="#00f" stroke-opacity="0.335" stroke-width="4.17" stroke-linecap="square"/>
</g>
<path d="M113.5 880.5v5.4M75.5 842.5h-5.4M251.5 880.5v5.4M75.5 705.5h-5.4M389.5 880.5v5.4M75.5 568.5h-5.4M527.5 880.5v5.4M75.5 431.5h-5.4M664.5 880.5v5.4M75.5 295.5h-5.4M802.5 880.5v5.4M75.5 158.5h-5.4" stroke="#000" stroke-width="1.11" fill="none"/>
<rect x="75.5" y="110.5" width="775.0" height="770.0" fill="none" stroke="#000" stroke-width="1.11"/>
<text x="114.40" y="901.5" font-size="13.89" text-anchor="middle">0</text>
<text x="66.9" y="847.75" font-size="13.89" text-anchor="end">0</text>
<text x="251.36" y="901.5" font-size="13.89" text-anchor="middle">200</text>
<text x="65.7" y="710.95" font-size="13.89" text-anchor="end">200</text>
<text x="388.42" y="901.5" font-size="13.89" text-anchor="middle">400</text>
<text x="65.7" y="574.15" font-size="13.89" text-anchor="end">400</text>
<text x="526.38" y="901.5" font-size="13.89" text-anchor="middle">600</text>
<text x="65.7" y="437.35" font-size="13.89" text-anchor="end">600</text>
<text x="664.24" y="901.5" font-size="13.89" text-anchor="middle">800</text>
<text x="65.7" y="300.55" font-size="13.89" text-anchor="end">800</text>
<text x="802.20" y="901.5" font-size="13.89" text-anchor="middle">1000</text>
<text x="65.7" y="163.75" font-size="13.89" text-anchor="end">1000</text>
<text x="463.0" y="920.8" font-size="16.67" text-anchor="middle">Simulated</text>
<text transform="translate(21.9 496.5) rotate(-90)" font-size="16.67" text-anchor="middle">Observed</text>
<text x="450" y="25.4" font-size="19.44" text-anchor="middle">Q-Q plot at is.landsvirkjun.hna13 for downward_shortwave_flux</text>
<text x="450" y="48.2" font-size="19.44" text-anchor="middle">from rav2-17-18 during summer</text>
</svg></body></html>
